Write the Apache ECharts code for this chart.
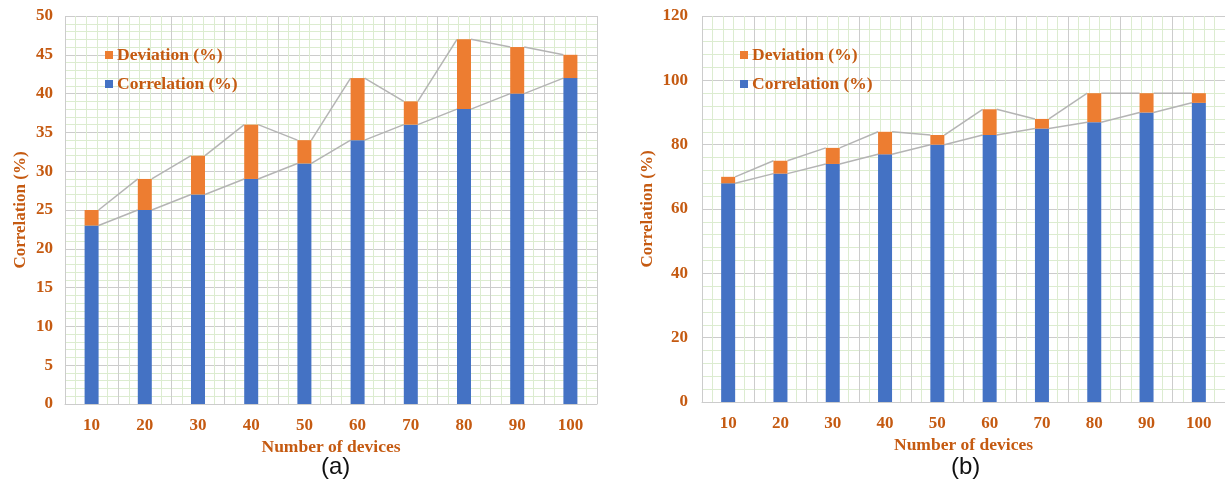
<!DOCTYPE html>
<html>
<head>
<meta charset="utf-8">
<script src="https://cdn.jsdelivr.net/npm/echarts@6/dist/echarts.min.js"></script>
<style>html,body{margin:0;padding:0;background:#fff;}#c{width:1225px;height:493px;}</style>
</head>
<body>
<div id="c"></div>
<script>
const categories = ['10','20','30','40','50','60','70','80','90','100'];
const corrA = [23,25,27,29,31,34,36,38,40,42];
const devA  = [2,4,5,7,3,8,3,9,6,3];
const corrB = [68,71,74,77,80,83,85,87,90,93];
const devB  = [2,4,5,7,3,8,3,9,6,3];
const yTicksA = {min:0, max:50, interval:5};
const yTicksB = {min:0, max:120, interval:20};
const panelLabels = ['(a)','(b)'];

const ORANGE_TXT = '#C55A11';
const BLUE = '#4472C4';
const ORANGE = '#ED7D31';
const LINE = '#b4b4b4';
const MAJOR = '#cccccc';
const MINOR = '#dcecd0';
const SERIF = '"Liberation Serif","Times New Roman",serif';

const chart = echarts.init(document.getElementById('c'), null, {renderer:'canvas'});

function totals(c,d){ return c.map((v,i)=>v+d[i]); }
function seriesLinePairs(arr){
  const out=[];
  for(let i=0;i<arr.length-1;i++) out.push([i,arr[i],i+1,arr[i+1]]);
  return out;
}
const HALF = 7;
function renderSeriesLine(params, api){
  const p1 = api.coord([api.value(0), api.value(1)]);
  const p2 = api.coord([api.value(2), api.value(3)]);
  return {
    type:'line',
    shape:{x1:p1[0]+HALF, y1:p1[1], x2:p2[0]-HALF, y2:p2[1]},
    style:{stroke:LINE, lineWidth:1.5},
    z2: 0
  };
}

const grids = [
  {left:65, top:16, width:532, height:388},
  {left:702, top:16, width:527, height:386}
];

function catAxis(gi){
  return {
    type:'category', gridIndex:gi, data:categories,
    boundaryGap:true,
    axisLine:{show:true, lineStyle:{color:MAJOR}},
    axisTick:{show:false},
    axisLabel:{color:ORANGE_TXT, fontFamily:SERIF, fontWeight:'bold', fontSize:17, margin:13},
    splitLine:{show:true, lineStyle:{color:MAJOR, width:1}},
    name:'Number of devices', nameLocation:'middle', nameGap:34,
    nameTextStyle:{color:ORANGE_TXT, fontFamily:SERIF, fontWeight:'bold', fontSize:17.5},
    z:3
  };
}
function minorXAxis(gi){
  return {
    type:'value', gridIndex:gi, min:0, max:50, interval:1, show:true,
    axisLine:{show:false}, axisTick:{show:false}, axisLabel:{show:false},
    splitLine:{show:true, lineStyle:{color:MINOR, width:1}},
    z:0
  };
}
function valAxis(gi, t, margin){
  return {
    type:'value', gridIndex:gi, min:t.min, max:t.max, interval:t.interval,
    axisLine:{show:false}, axisTick:{show:false},
    axisLabel:{color:ORANGE_TXT, fontFamily:SERIF, fontWeight:'bold', fontSize:17, margin:margin},
    splitLine:{show:true, lineStyle:{color:MAJOR, width:1}},
    minorTick:{show:false, splitNumber:5},
    minorSplitLine:{show:true, lineStyle:{color:MINOR, width:1}},
    name:'Correlation (%)', nameLocation:'middle', nameGap: (gi===0?36:46),
    nameTextStyle:{color:ORANGE_TXT, fontFamily:SERIF, fontWeight:'bold', fontSize:17}
  };
}

function barSeries(gi, corr, dev){
  return [
    {name:'Correlation (%)', type:'bar', stack:'s'+gi, xAxisIndex:gi*2, yAxisIndex:gi,
     data:corr, barWidth:14, itemStyle:{color:BLUE}, z:5},
    {name:'Deviation (%)', type:'bar', stack:'s'+gi, xAxisIndex:gi*2, yAxisIndex:gi,
     data:dev, barWidth:14, itemStyle:{color:ORANGE}, z:5},
    {name:'sl-tot'+gi, type:'custom', xAxisIndex:gi*2, yAxisIndex:gi,
     data:seriesLinePairs(totals(corr,dev)), renderItem:renderSeriesLine,
     encode:{x:[0,2], y:[1,3]}, silent:true, z:4},
    {name:'sl-cor'+gi, type:'custom', xAxisIndex:gi*2, yAxisIndex:gi,
     data:seriesLinePairs(corr), renderItem:renderSeriesLine,
     encode:{x:[0,2], y:[1,3]}, silent:true, z:4}
  ];
}

function legend(left){
  return {
    left:left, top:41, orient:'vertical', itemWidth:8, itemHeight:8, itemGap:11,
    icon:'rect', data:['Deviation (%)','Correlation (%)'],
    textStyle:{color:ORANGE_TXT, fontFamily:SERIF, fontWeight:'bold', fontSize:17.5, padding:[0,0,0,-1]},
    selectedMode:false
  };
}

chart.setOption({
  animation:false,
  backgroundColor:'#fff',
  grid:grids,
  xAxis:[catAxis(0), minorXAxis(0), catAxis(1), minorXAxis(1)],
  yAxis:[valAxis(0,yTicksA,12), valAxis(1,yTicksB,14)],
  legend:[legend(100), legend(735)],
  series:[...barSeries(0,corrA,devA), ...barSeries(1,corrB,devB)],
  graphic:[
    {type:'text', left:321, top:455, style:{text:panelLabels[0], font:'24px "Liberation Sans", Arial, sans-serif', fill:'#111'}},
    {type:'text', left:951, top:455, style:{text:panelLabels[1], font:'24px "Liberation Sans", Arial, sans-serif', fill:'#111'}}
  ]
});
</script>
</body>
</html>
